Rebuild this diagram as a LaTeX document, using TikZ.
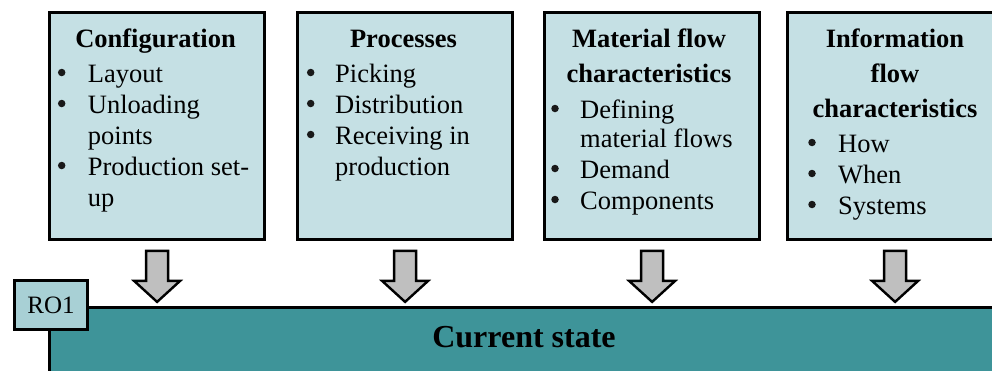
\documentclass[tikz,border=0pt]{standalone}
\usepackage{fontspec}
\setmainfont{Liberation Serif}
\definecolor{panelfill}{HTML}{C5E0E4}
\definecolor{tagfill}{HTML}{A8D0D5}
\definecolor{barfill}{HTML}{3E9499}
\definecolor{arrowfill}{HTML}{BFBFBF}

\tikzset{
  panel/.style={draw=black, line width=2.6pt, fill=panelfill, anchor=north west,
                minimum width=215pt, minimum height=227pt, inner sep=0pt},
  hd/.style={anchor=base, inner sep=0pt, font=\fontsize{26.5}{30}\selectfont\bfseries},
  itm/.style={anchor=base west, inner sep=0pt, font=\fontsize{26.5}{30}\selectfont},
  bul/.style={circle, fill=black!90, inner sep=0pt, minimum size=7.5pt},
  blockarrow/.style={draw=black, line width=2.4pt, fill=arrowfill, line join=miter},
  statebar/.style={draw=black, line width=2.6pt, fill=barfill, anchor=north west,
                   minimum width=960pt, minimum height=90pt, inner sep=0pt},
  tag/.style={draw=black, line width=2.6pt, fill=tagfill, anchor=north west,
              minimum width=73pt, minimum height=49pt, inner sep=0pt,
              font=\fontsize{25}{28}\selectfont},
}

% bullet item: name, bullet x, text x, baseline y, text
\newcommand\bitem[5]{%
  \node[bul] (#1b) at (#2,#4-9.5) {};
  \node[itm] (#1) at (#3,#4) {#5};}
% continuation line of an item: name, text x, baseline y, text
\newcommand\contline[4]{\node[itm] (#1) at (#2,#3) {#4};}
% block arrow hanging below a panel
\newcommand\downblock[1]{%
  \draw[blockarrow]
    ([xshift=-11pt,yshift=-10pt]#1.south) -- ([xshift=11pt,yshift=-10pt]#1.south)
    -- ([xshift=11pt,yshift=-40pt]#1.south) -- ([xshift=23pt,yshift=-40pt]#1.south)
    -- ([yshift=-61pt]#1.south) -- ([xshift=-23pt,yshift=-40pt]#1.south)
    -- ([xshift=-11pt,yshift=-40pt]#1.south) -- cycle;}

\begin{document}
\begin{tikzpicture}[x=1pt,y=-1pt]
  \path[use as bounding box] (0,0) rectangle (992,370);
  \clip (0,0) rectangle (992,370);

  % four panels
  \node[panel] (cfg)  at (48.3,11.3) {};
  \node[panel] (proc) at (296.3,11.3) {};
  \node[panel] (mat)  at (543.3,11.3) {};
  \node[panel] (info) at (786.3,11.3) {};

  % Configuration
  \node[hd] (cfgT) at (155.5,47) {Configuration};
  \bitem{c1}{61.7}{87.7}{82}{Layout}
  \bitem{c2}{61.7}{87.7}{113}{Unloading}
  \contline{c2a}{87.7}{144}{points}
  \bitem{c3}{61.7}{87.7}{175}{Production set-}
  \contline{c3a}{87.7}{206}{up}

  % Processes
  \node[hd] (procT) at (403.5,47) {Processes};
  \bitem{p1}{310.7}{335}{82}{Picking}
  \bitem{p2}{310.7}{335}{113}{Distribution}
  \bitem{p3}{310.7}{335}{144}{Receiving in}
  \contline{p3a}{335}{175}{production}

  % Material flow characteristics
  \node[hd] (matT1) at (649,47) {Material flow};
  \node[hd] (matT2) at (649,82) {characteristics};
  \bitem{m1}{555}{580}{118}{Defining}
  \contline{m1a}{580}{147}{material flows}
  \bitem{m2}{555}{580}{178}{Demand}
  \bitem{m3}{555}{580}{209}{Components}

  % Information flow characteristics
  \node[hd] (infT1) at (895,47) {Information};
  \node[hd] (infT2) at (895,82) {flow};
  \node[hd] (infT3) at (895,117) {characteristics};
  \bitem{i1}{812}{838}{152}{How}
  \bitem{i2}{812}{838}{183}{When}
  \bitem{i3}{812}{838}{214}{Systems}

  % arrows into the current-state bar
  \downblock{cfg}
  \downblock{proc}
  \downblock{mat}
  \downblock{info}

  % current state bar and its tag
  \node[statebar] (cur) at (48.3,306.3) {};
  \node[anchor=base, inner sep=0pt, font=\fontsize{32}{36}\selectfont\bfseries]
    (curT) at (524,347) {Current state};
  \node[tag] (ro) at (13.3,279.3) {RO1};
\end{tikzpicture}
\end{document}
